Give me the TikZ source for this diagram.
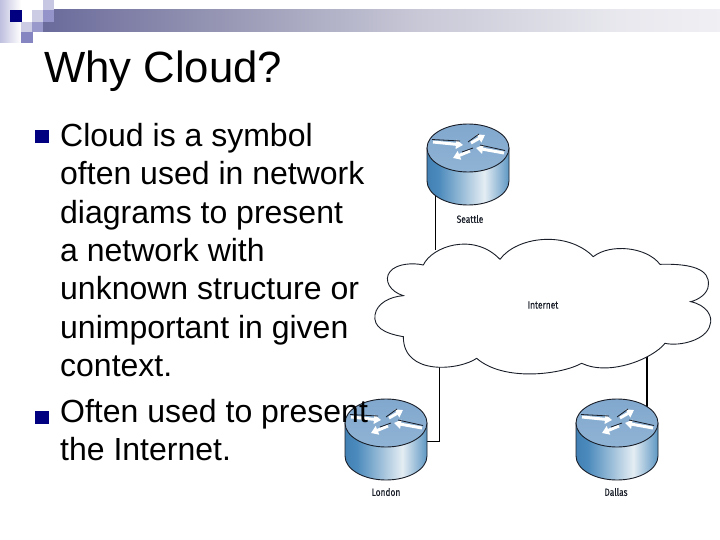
\documentclass[tikz,border=0pt]{standalone}
\usepackage{fontspec}
\setmainfont{Liberation Sans}
\newfontfamily\labelfont[FakeBold=0.35]{Fira Sans}
\usetikzlibrary{arrows.meta,calc}
\definecolor{navy}{RGB}{0,0,128}
\definecolor{inkline}{RGB}{25,30,40}
\definecolor{barA}{RGB}{40,40,130}
\definecolor{barB}{RGB}{100,100,152}
\definecolor{barC}{RGB}{150,150,180}
\definecolor{barD}{RGB}{200,200,215}
\definecolor{barE}{RGB}{232,232,238}
\definecolor{barF}{RGB}{246,246,249}
\pgfdeclarehorizontalshading{barshade}{100bp}{
  color(0bp)=(navy);
  color(8.4bp)=(barA);
  color(23bp)=(barB);
  color(38bp)=(barC);
  color(52.7bp)=(barD);
  color(67.5bp)=(barE);
  color(82bp)=(barF);
  color(100bp)=(white)}
\definecolor{cylA}{RGB}{35,95,150}
\definecolor{cylB}{RGB}{75,138,188}
\definecolor{cylC}{RGB}{228,237,243}
\definecolor{cylD}{RGB}{85,145,192}
\definecolor{cylE}{RGB}{28,88,148}
\pgfdeclarehorizontalshading{cylshade}{100bp}{
  color(0bp)=(cylA);
  color(32bp)=(cylB);
  color(60bp)=(cylC);
  color(76bp)=(cylD);
  color(100bp)=(cylE)}
\definecolor{topA}{RGB}{122,162,203}
\definecolor{topB}{RGB}{150,185,215}
\pgfdeclareverticalshading{topshade}{100bp}{
  color(0bp)=(topB);
  color(100bp)=(topA)}
\tikzset{
  linkline/.style={draw=black,line width=0.9pt},
  routerlabel/.style={inner sep=0pt,font=\labelfont\fontsize{10.5}{12}\selectfont,xscale=0.8,text=inkline},
  bodytext/.style={inner sep=0pt,anchor=north west,align=left,text=black,font=\fontsize{32}{38.4}\selectfont},
  bulletmark/.style={fill=navy,minimum width=14pt,minimum height=13pt,inner sep=0pt},
  whitearrow/.style={draw=white,line width=3pt,-{Triangle[length=7pt,width=9pt]}},
  arrowedge/.style={draw=inkline,line width=0.8pt}
}
\newcommand{\routerdraw}[2]{%
  \begin{scope}[shift={(#1,#2)}]
    \path[shading=cylshade,draw=inkline,line width=0.9pt]
      (-41,0) -- (-41,33) arc[start angle=180,end angle=0,x radius=41,y radius=24]
      -- (41,0) -- cycle;
    \path[shading=topshade,draw=inkline,line width=0.9pt]
      (0,0) ellipse[x radius=41,y radius=24];
    \draw[whitearrow] (-35,-6) -- (-5,-3);
    \draw[arrowedge] (-36,-8.5) -- (-8,-7);
    \draw[whitearrow] (36,5) -- (8,0);
    \draw[arrowedge] (37,2.5) -- (12,-3);
    \draw[whitearrow] (3,-5) -- (17,-13);
    \draw[arrowedge] (0,-6) -- (11,-14);
    \draw[whitearrow] (2,3) -- (-15,10);
    \draw[arrowedge] (5,0) -- (-6,4);
  \end{scope}}
\begin{document}
\begin{tikzpicture}[x=1pt,y=-1pt]
\useasboundingbox (0,0) rectangle (720,540);
\fill[white] (0,0) rectangle (720,540);
% header band
\path[left color=navy!25,right color=white] (0,0) rectangle (21,43);
\path[shading=barshade] (43,10) rectangle (720,32);
\fill[white] (43,10) rectangle (54,22);
\fill[navy] (10,10) rectangle (22,22);
\fill[navy!20] (32,10) rectangle (43,22);
\fill[navy!22] (43,0) rectangle (54,10);
\fill[navy!42] (43,10) rectangle (54,22);
\fill[navy!20] (21,22) rectangle (32,32);
\fill[navy!40] (32,22) rectangle (43,32);
\fill[navy!48] (21,32) rectangle (33,43);
% named connector ends
\coordinate (seattleport) at (435,195);
\coordinate (cloudseattle) at (435,250);
\coordinate (cloudlondon) at (439,366);
\coordinate (londonport) at (427,441);
\coordinate (londonbend) at (439,441);
\coordinate (clouddallas) at (647,355);
\coordinate (dallasport) at (647,410);
\draw[linkline] (seattleport) -- (cloudseattle);
\draw[linkline] (cloudlondon) -- (londonbend) -- (londonport);
\draw[linkline,line width=1.1pt] (clouddallas) -- (dallasport);
% cloud
\begin{scope}[shift={(360,230)},x=0.3333pt,y=-0.3333pt]
\draw[fill=white,draw=inkline,line width=0.9pt]
 (190,105) .. controls (215,50) and (340,5) .. (420,88)
 .. controls (470,20) and (620,0) .. (700,80)
 .. controls (750,40) and (860,50) .. (900,103)
 .. controls (1000,100) and (1050,120) .. (1045,165)
 .. controls (1045,190) and (1015,210) .. (992,215)
 .. controls (1040,225) and (1060,260) .. (1050,285)
 .. controls (1040,330) and (960,350) .. (915,340)
 .. controls (880,385) and (750,440) .. (665,400)
 .. controls (600,435) and (430,455) .. (350,385)
 .. controls (300,420) and (130,440) .. (130,320)
 .. controls (70,310) and (40,290) .. (45,255)
 .. controls (50,220) and (90,200) .. (130,197)
 .. controls (90,185) and (70,150) .. (90,125)
 .. controls (110,100) and (160,98) .. (190,105) -- cycle;
\end{scope}
\node[routerlabel] (internet) at (543,305) {Internet};
% routers
\routerdraw{468}{148}
\routerdraw{386}{423}
\routerdraw{617}{423}
\node[routerlabel] (seattle) at (470,219) {Seattle};
\node[routerlabel] (london) at (386,492) {London};
\node[routerlabel] (dallas) at (616,492) {Dallas};
% text
\node[inner sep=0pt,anchor=base west,font=\fontsize{43.7}{50}\selectfont] (title) at (44,83) {Why Cloud?};
\node[bulletmark] (bulletone) at (42,136.5) {};
\node[bulletmark] (bullettwo) at (42,417) {};
\node[bodytext] (itemone) at (60,123) {Cloud is a symbol\\often used in network\\diagrams to present\\a network with\\unknown structure or\\unimportant in given\\context.};
\node[bodytext] (itemtwo) at (60,399) {Often used to present\\the Internet.};
\end{tikzpicture}
\end{document}
